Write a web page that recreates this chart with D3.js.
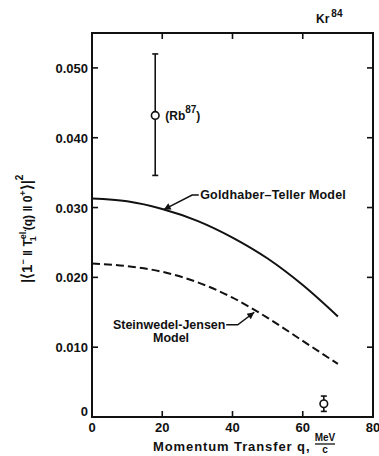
<!DOCTYPE html>
<html>
<head>
<meta charset="utf-8">
<script src="https://cdnjs.cloudflare.com/ajax/libs/d3/7.8.5/d3.min.js"></script>
<style>
  body { margin: 0; background: #fff; }
  svg text { font-family: "Liberation Sans", Arial, sans-serif; font-weight: bold; fill: #111; }
</style>
</head>
<body>
<div id="chart"></div>
<script>
// data
const qValues = [0, 10, 20, 30, 40, 50, 60, 70];
const goldhaberTeller = [0.0313, 0.0309, 0.0298, 0.0281, 0.0257, 0.0227, 0.0189, 0.0144];
const steinwedelJensen = [0.0220, 0.0216, 0.0208, 0.0193, 0.0171, 0.0142, 0.0109, 0.0076];

const pointQ = [18, 66];
const pointValue = [0.0432, 0.0019];
const pointLow = [0.0346, 0.0008];
const pointHigh = [0.0520, 0.0030];

const xTicks = [0, 20, 40, 60, 80];
const yTicks = [0, 0.010, 0.020, 0.030, 0.040, 0.050];
const yTickLabels = ['0', '0.010', '0.020', '0.030', '0.040', '0.050'];

const margin = { top: 33, right: 6, bottom: 39, left: 92 };
const width = 379 - margin.left - margin.right;
const height = 456 - margin.top - margin.bottom;

const svg = d3.select('#chart').append('svg')
  .attr('width', 379)
  .attr('height', 456);

const g = svg.append('g')
  .attr('transform', 'translate(' + margin.left + ',' + margin.top + ')');

const x = d3.scaleLinear().domain([0, 80]).range([0, width]);
const y = d3.scaleLinear().domain([0, 0.055]).range([height, 0]);

// frame
g.append('rect')
  .attr('x', 0).attr('y', 0)
  .attr('width', width).attr('height', height)
  .attr('fill', 'none')
  .attr('stroke', '#111')
  .attr('stroke-width', 2);

// inward ticks on all sides
const tickLen = 6;
const innerX = xTicks.slice(1, -1);
const innerY = yTicks.slice(1);
g.selectAll('.xt-bot').data(innerX).enter().append('line')
  .attr('x1', d => x(d)).attr('x2', d => x(d))
  .attr('y1', height).attr('y2', height - tickLen)
  .attr('stroke', '#111').attr('stroke-width', 1.6);
g.selectAll('.xt-top').data(innerX).enter().append('line')
  .attr('x1', d => x(d)).attr('x2', d => x(d))
  .attr('y1', 0).attr('y2', tickLen)
  .attr('stroke', '#111').attr('stroke-width', 1.6);
g.selectAll('.yt-left').data(innerY).enter().append('line')
  .attr('x1', 0).attr('x2', tickLen)
  .attr('y1', d => y(d)).attr('y2', d => y(d))
  .attr('stroke', '#111').attr('stroke-width', 1.6);
g.selectAll('.yt-right').data(innerY).enter().append('line')
  .attr('x1', width).attr('x2', width - tickLen)
  .attr('y1', d => y(d)).attr('y2', d => y(d))
  .attr('stroke', '#111').attr('stroke-width', 1.6);

// tick labels
g.selectAll('.xl').data(xTicks).enter().append('text')
  .attr('x', d => x(d))
  .attr('y', height + 15)
  .attr('text-anchor', 'middle')
  .style('font-size', '13px')
  .text(d => d);
g.selectAll('.yl').data(yTicks).enter().append('text')
  .attr('x', -4)
  .attr('y', d => y(d) + (d === 0 ? -1 : 5))
  .attr('text-anchor', 'end')
  .style('font-size', '13px')
  .text((d, i) => yTickLabels[i]);

// curves
const line = d3.line()
  .x((d, i) => x(qValues[i]))
  .y(d => y(d))
  .curve(d3.curveMonotoneX);

g.append('path')
  .datum(goldhaberTeller)
  .attr('fill', 'none')
  .attr('stroke', '#111')
  .attr('stroke-width', 2)
  .attr('d', line);

g.append('path')
  .datum(steinwedelJensen)
  .attr('fill', 'none')
  .attr('stroke', '#111')
  .attr('stroke-width', 2)
  .attr('stroke-dasharray', '8,4')
  .attr('d', line);

// error bars and points
const capW = 3;
pointQ.forEach((q, i) => {
  g.append('line')
    .attr('x1', x(q)).attr('x2', x(q))
    .attr('y1', y(pointLow[i])).attr('y2', y(pointHigh[i]))
    .attr('stroke', '#111').attr('stroke-width', 1.6);
  [pointLow[i], pointHigh[i]].forEach(v => {
    g.append('line')
      .attr('x1', x(q) - capW).attr('x2', x(q) + capW)
      .attr('y1', y(v)).attr('y2', y(v))
      .attr('stroke', '#111').attr('stroke-width', 1.6);
  });
  g.append('circle')
    .attr('cx', x(q)).attr('cy', y(pointValue[i]))
    .attr('r', 3.8)
    .attr('fill', '#fff')
    .attr('stroke', '#111')
    .attr('stroke-width', 1.6);
});

// (Rb87) label
const rb = g.append('text')
  .attr('x', x(pointQ[0]) + 10)
  .attr('y', y(pointValue[0]) + 5)
  .style('font-size', '12px');
rb.append('tspan').text('(Rb');
rb.append('tspan').attr('dy', -7).style('font-size', '10px').text('87');
rb.append('tspan').attr('dy', 7).text(')');

// arrow marker
svg.append('defs').append('marker')
  .attr('id', 'arrow')
  .attr('viewBox', '0 0 10 10')
  .attr('refX', 10).attr('refY', 5)
  .attr('markerWidth', 9).attr('markerHeight', 7)
  .attr('markerUnits', 'userSpaceOnUse')
  .attr('orient', 'auto')
  .append('path')
  .attr('d', 'M0,0 L10,5 L0,10 Z')
  .attr('fill', '#111');

// Goldhaber-Teller annotation
g.append('path')
  .attr('d', 'M' + x(30.4) + ',' + y(0.0318) + ' L' + x(28.5) + ',' + y(0.0318) + ' L' + x(20.4) + ',' + y(0.0297))
  .attr('fill', 'none').attr('stroke', '#111').attr('stroke-width', 1.5)
  .attr('marker-end', 'url(#arrow)');
g.append('text')
  .attr('x', x(30.8))
  .attr('y', y(0.0318) + 4)
  .style('font-size', '12.5px')
  .style('letter-spacing', '0.2px')
  .text('Goldhaber\u2013Teller Model');

// Steinwedel-Jensen annotation
g.append('path')
  .attr('d', 'M' + x(38.2) + ',' + y(0.0132) + ' L' + x(41.5) + ',' + y(0.0132) + ' L' + x(46.2) + ',' + y(0.0150))
  .attr('fill', 'none').attr('stroke', '#111').attr('stroke-width', 1.5)
  .attr('marker-end', 'url(#arrow)');
g.append('text')
  .attr('x', x(38))
  .attr('y', y(0.0132) + 4)
  .attr('text-anchor', 'end')
  .style('font-size', '12.5px')
  .text('Steinwedel-Jensen');
g.append('text')
  .attr('x', x(22.5))
  .attr('y', y(0.0132) + 17)
  .attr('text-anchor', 'middle')
  .style('font-size', '12.5px')
  .text('Model');

// Kr84 title
const kr = svg.append('text')
  .attr('x', 316).attr('y', 23)
  .style('font-size', '12px');
kr.append('tspan').text('Kr');
kr.append('tspan').attr('dx', 2).attr('dy', -6).style('font-size', '10px').text('84');

// x axis label
svg.append('text')
  .attr('x', 153).attr('y', 451)
  .style('font-size', '13px')
  .style('letter-spacing', '0.9px')
  .text('Momentum Transfer q,');
svg.append('text')
  .attr('x', 325).attr('y', 441)
  .attr('text-anchor', 'middle')
  .style('font-size', '10px')
  .text('MeV');
svg.append('line')
  .attr('x1', 315).attr('x2', 335)
  .attr('y1', 444).attr('y2', 444)
  .attr('stroke', '#111').attr('stroke-width', 1.3);
svg.append('text')
  .attr('x', 325).attr('y', 453)
  .attr('text-anchor', 'middle')
  .style('font-size', '10px')
  .text('c');

// y axis label (rotated)
const yl = svg.append('text')
  .attr('transform', 'translate(32,' + (margin.top + height * 0.51) + ') rotate(-90)')
  .attr('text-anchor', 'middle')
  .style('font-size', '12px');
yl.append('tspan').style('font-size', '15px').text('|\u27E81');
yl.append('tspan').attr('dy', -6).style('font-size', '9px').text('\u2212');
yl.append('tspan').attr('dy', 6).text(' \u2016 T');
yl.append('tspan').attr('dy', -6).style('font-size', '9px').text('el.');
yl.append('tspan').attr('dx', -12).attr('dy', 10).style('font-size', '9px').text('1');
yl.append('tspan').attr('dx', 6).attr('dy', -4).text('(q) \u2016 0');
yl.append('tspan').attr('dy', -6).style('font-size', '9px').text('+');
yl.append('tspan').attr('dy', 6).style('font-size', '15px').text('\u27E9|');
yl.append('tspan').attr('dy', -9).style('font-size', '10px').text('2');
</script>
</body>
</html>
